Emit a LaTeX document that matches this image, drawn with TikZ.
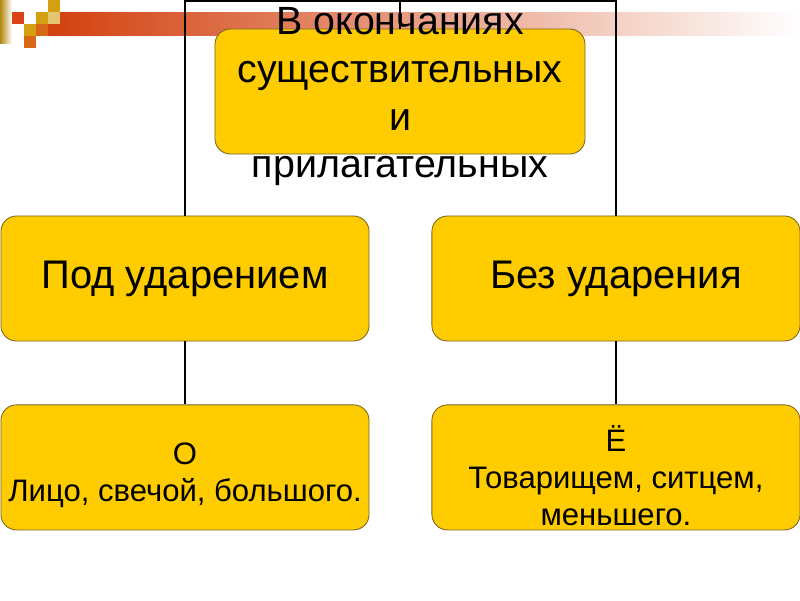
\documentclass[tikz,border=0pt]{standalone}
\usepackage{fontspec}
\setmainfont{Liberation Sans}
\usetikzlibrary{positioning}
\definecolor{CajaOro}{HTML}{FFCC00}
\definecolor{CajaBorde}{HTML}{7A6420}
\definecolor{BarraRoja}{HTML}{D2400E}
\definecolor{CuadOro}{HTML}{D4A010}
\definecolor{CuadNaranja}{HTML}{D86818}
\definecolor{CuadRojo}{HTML}{D84414}

\begin{document}
\begin{tikzpicture}[x=0.025cm,y=-0.025cm,
 caja/.style={draw=CajaBorde,line width=0.6pt,fill=CajaOro,rounded corners=11pt,inner sep=0pt,
  minimum width=9.2cm,minimum height=3.125cm,align=center},
 texto/.style={align=center,font=\fontsize{22.1}{26.3}\selectfont},
 linea/.style={line width=0.9pt}]
\useasboundingbox (0,0) rectangle (800,600);
% franja y cuadritos de la plantilla
\shade[left color=BarraRoja,right color=white] (48,12) rectangle (800,35);
\fill[left color=CuadOro!85!black,right color=white] (0,0) rectangle (12,43);
\fill[CuadRojo] (12,12) rectangle (24,24);
\fill[CuadOro] (48,0) rectangle (60,12);
\fill[CuadOro] (36,12) rectangle (48,24);
\fill[CuadOro!60!white] (48,12) rectangle (60,24);
\fill[CuadOro] (24,24) rectangle (36,36);
\fill[CuadNaranja] (36,24) rectangle (48,36);
\fill[CuadNaranja] (24,36) rectangle (36,48);
% esquema
\node[caja,minimum width=9.25cm] (r) at (400,91.5) {};
\node[font=\fontsize{28}{34}\selectfont,align=center] (rt) at ([yshift=-0.13cm]r.center) {В окончаниях\\существительных\\и\\прилагательных};
\node[caja,font=\fontsize{28.4}{34}\selectfont] (a) at (185,278.5) {Под ударением};
\node[caja,font=\fontsize{28.4}{34}\selectfont,right=1.55cm of a] (b) {Без ударения};
\node[caja,below=1.575cm of a] (c) {};
\node[caja,below=1.575cm of b] (d) {};
\node[texto] (ct) at ([yshift=-0.2cm]c.center) {О\\Лицо, свечой, большого.};
\node[texto] (dt) at ([yshift=-0.2cm]d.center) {Ё\\Товарищем, ситцем,\\меньшего.};
\coordinate (tope) at (400,1);
\draw[linea] (r.north)--(tope);
\draw[linea] (a.north) |- (tope) -| (b.north);
\draw[linea] (a.south)--(c.north);\draw[linea] (b.south)--(d.north);
\end{tikzpicture}
\end{document}
